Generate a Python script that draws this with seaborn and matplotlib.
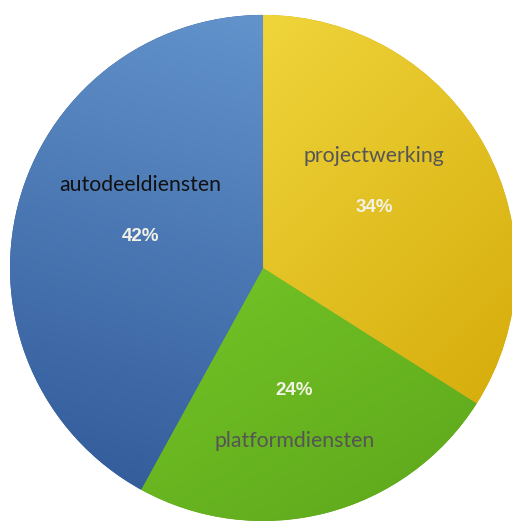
import numpy as np
import matplotlib
matplotlib.use("Agg")
import matplotlib.pyplot as plt
import matplotlib.colors as mcolors
import seaborn as sns

categories = ["projectwerking", "platformdiensten", "autodeeldiensten"]
shares = [34, 24, 42]
pct_labels = ["34%", "24%", "42%"]
label_colors = ["#555555", "#555555", "#111111"]
label_offsets = [0.20, -0.20, 0.205]

# gradient (light, dark) and direction for each slice
grad_colors = [("#fae650", "#d0a300"), ("#88dc30", "#5aa41a"), ("#6b9dd4", "#2c5494")]
grad_dirs = [(1.0, -1.0), (0.6, -1.0), (-0.3, -1.0)]

sns.set_theme(style="white")
plt.rcParams['font.family'] = ['Lato', 'DejaVu Sans']

fig = plt.figure(figsize=(5.12, 5.23), dpi=100)
ax = fig.add_axes([0, 0, 1, 1])
ax.set_axis_off()

wedges, _ = ax.pie(shares, startangle=90, counterclock=False, radius=1.0,
                   colors=[c[1] for c in grad_colors],
                   wedgeprops=dict(linewidth=0))

yy, xx = np.mgrid[1.05:-1.05:400j, -1.05:1.05:400j]
for w, (c1, c2), (dx, dy) in zip(wedges, grad_colors, grad_dirs):
    d = np.array([dx, dy]) / np.hypot(dx, dy)
    t = (xx * d[0] + yy * d[1])
    t = (t - t.min()) / (t.max() - t.min())
    cmap = mcolors.LinearSegmentedColormap.from_list("g", [c1, c2])
    im = ax.imshow(t, cmap=cmap, extent=[-1.05, 1.05, -1.05, 1.05],
                   origin="upper", interpolation="bilinear", zorder=2)
    im.set_clip_path(w)

pctdist = 0.5
for w, cat, pl, col, off in zip(wedges, categories, pct_labels, label_colors, label_offsets):
    ang = np.deg2rad((w.theta1 + w.theta2) / 2)
    px, py = pctdist * np.cos(ang), pctdist * np.sin(ang)
    ax.text(px, py, pl, ha="center", va="center", fontsize=13.5, fontweight="bold",
            color="#f2f2e6", fontfamily="Liberation Sans", zorder=5)
    ax.text(px, py + off, cat, ha="center", va="center", fontsize=15.3,
            color=col, zorder=5)

ax.set_xlim(-1.0395, 0.984)
ax.set_ylim(-1.008, 1.059)
ax.set_aspect("equal")
fig.savefig("out.png", dpi=100)
